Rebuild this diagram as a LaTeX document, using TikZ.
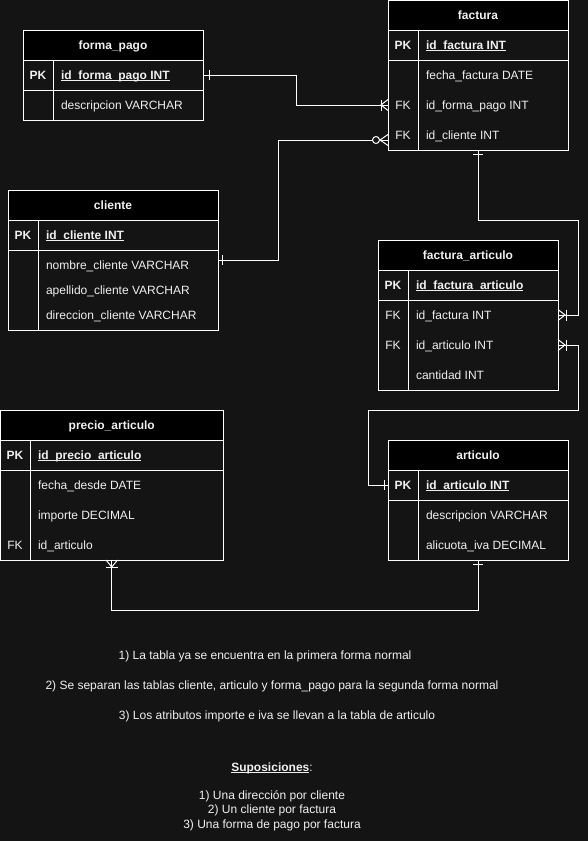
\documentclass[tikz,border=0pt]{standalone}
\usepackage{fontspec}
\setmainfont{Liberation Sans}
\newcommand{\myul}[1]{\setbox0\hbox{#1}\rlap{\rule[-1.8pt]{\wd0}{0.9pt}}\box0}
\definecolor{bgc}{HTML}{141414}
\definecolor{fgc}{HTML}{F0F0F0}
\begin{document}
\begin{tikzpicture}[x=1pt,y=-1pt,
  every node/.style={inner sep=0pt, outer sep=0pt, text=fgc, font=\fontsize{12}{14}\selectfont},
  ln/.style={draw=white, line width=1pt},
  hdr/.style={ln, fill=black, anchor=north west, minimum height=30pt, text height=8.6pt, text depth=0pt, font=\fontsize{12}{14}\selectfont\bfseries},
  bodybox/.style={ln, fill=bgc, anchor=north west},
  keyt/.style={anchor=center, text height=8.6pt, text depth=0pt},
  keyb/.style={keyt, font=\fontsize{12}{14}\selectfont\bfseries},
  fld/.style={anchor=west, text height=8.6pt, text depth=0pt},
  fldb/.style={fld, font=\fontsize{12}{14}\selectfont\bfseries},
  conn/.style={draw=white, line width=1pt},
  mk/.style={draw=white, line width=1pt},
  note/.style={anchor=center, text height=8.6pt, text depth=0pt}
]
\fill[bgc] (0,0) rectangle (588,841);
\useasboundingbox (0,0) rectangle (588,841);

% forma_pago
\node[hdr, minimum width=180pt] (fp) at (23,30) {forma\_pago};
\node[bodybox, minimum width=180pt, minimum height=30pt] (fp1) at (23,60) {};
\node[bodybox, minimum width=180pt, minimum height=30pt] (fp2) at (23,90) {};
\draw[ln] (53,60) -- (53,120);
\node[keyb] (fp1k) at (38,75) {PK};
\node[fldb] (fp1f) at (61,75) {\myul{id\_forma\_pago INT}};
\node[fld] (fp2f) at (61,105) {descripcion VARCHAR};

% factura
\node[hdr, minimum width=180pt, minimum height=29.5pt] (fa) at (388,0.5) {factura};
\node[bodybox, minimum width=180pt, minimum height=30pt] (fa1) at (388,30) {};
\node[bodybox, minimum width=180pt, minimum height=90pt] (fab) at (388,60) {};
\draw[ln] (418,30) -- (418,150);
\node[keyb] (fa1k) at (403,45) {PK};
\node[fldb] (fa1f) at (426,45) {\myul{id\_factura INT}};
\node[fld] (fa2f) at (426,75) {fecha\_factura DATE};
\node[keyt] (fa3k) at (403,105) {FK};
\node[fld] (fa3f) at (426,105) {id\_forma\_pago INT};
\node[keyt] (fa4k) at (403,135) {FK};
\node[fld] (fa4f) at (426,135) {id\_cliente INT};

% cliente
\node[hdr, minimum width=210pt] (cl) at (8,190) {cliente};
\node[bodybox, minimum width=210pt, minimum height=30pt] (cl1) at (8,220) {};
\node[bodybox, minimum width=210pt, minimum height=80pt] (clb) at (8,250) {};
\draw[ln] (38,220) -- (38,330);
\node[keyb] (cl1k) at (23,235) {PK};
\node[fldb] (cl1f) at (46,235) {\myul{id\_cliente INT}};
\node[fld] (cl2f) at (46,265) {nombre\_cliente VARCHAR};
\node[fld] (cl3f) at (46,290) {apellido\_cliente VARCHAR};
\node[fld] (cl4f) at (46,315) {direccion\_cliente VARCHAR};

% factura_articulo
\node[hdr, minimum width=180pt] (fx) at (378,240) {factura\_articulo};
\node[bodybox, minimum width=180pt, minimum height=30pt] (fx1) at (378,270) {};
\node[bodybox, minimum width=180pt, minimum height=90pt] (fxb) at (378,300) {};
\draw[ln] (408,270) -- (408,390);
\node[keyb] (fx1k) at (393,285) {PK};
\node[fldb] (fx1f) at (416,285) {\myul{id\_factura\_articulo}};
\node[keyt] (fx2k) at (393,315) {FK};
\node[fld] (fx2f) at (416,315) {id\_factura INT};
\node[keyt] (fx3k) at (393,345) {FK};
\node[fld] (fx3f) at (416,345) {id\_articulo INT};
\node[fld] (fx4f) at (416,375) {cantidad INT};

% precio_articulo
\node[hdr, minimum width=222.5pt] (pa) at (0.5,410) {precio\_articulo};
\node[bodybox, minimum width=222.5pt, minimum height=30pt] (pa1) at (0.5,440) {};
\node[bodybox, minimum width=222.5pt, minimum height=90pt] (pab) at (0.5,470) {};
\draw[ln] (30,440) -- (30,560);
\node[keyb] (pa1k) at (15,455) {PK};
\node[fldb] (pa1f) at (38,455) {\myul{id\_precio\_articulo}};
\node[fld] (pa2f) at (38,485) {fecha\_desde DATE};
\node[fld] (pa3f) at (38,515) {importe DECIMAL};
\node[keyt] (pa4k) at (15,545) {FK};
\node[fld] (pa4f) at (38,545) {id\_articulo};

% articulo
\node[hdr, minimum width=180pt] (ar) at (388,440) {articulo};
\node[bodybox, minimum width=180pt, minimum height=30pt] (ar1) at (388,470) {};
\node[bodybox, minimum width=180pt, minimum height=60pt] (arb) at (388,500) {};
\draw[ln] (418,470) -- (418,560);
\node[keyb] (ar1k) at (403,485) {PK};
\node[fldb] (ar1f) at (426,485) {\myul{id\_articulo INT}};
\node[fld] (ar2f) at (426,515) {descripcion VARCHAR};
\node[fld] (ar3f) at (426,545) {alicuota\_iva DECIMAL};

% connector endpoints
\coordinate (faFP) at (388,105);
\coordinate (faCL) at (388,140);
\coordinate (clE) at (218,260);
\coordinate (fxFA) at (558,315);
\coordinate (fxAR) at (558,345);

% connectors
\draw[conn] (fp1.east) -- (296,75) -- (296,105) -- (faFP);
\draw[conn] (clE) -- (278,260) -- (278,140) -- (372.5,140);
\draw[conn] (fab.south) -- (478,220) -- (578,220) -- (578,315) -- (fxFA);
\draw[conn] (fxAR) -- (578,345) -- (578,410) -- (368,410) -- (368,485) -- (ar1.west);
\draw[conn] (pab.south) -- (111.75,610) -- (478,610) -- (arb.south);

% ER marks
\draw[mk] (209,70) -- (209,80);
\draw[mk] (388,99.5) -- (381,105) -- (388,110.5);
\draw[mk] (381,99.5) -- (381,110.5);
\draw[mk] (222,255) -- (222,265);
\draw[mk, fill=bgc] (376,140) circle[radius=3.5pt];
\draw[mk] (379.5,140) -- (388,140);
\draw[mk] (388,134.5) -- (380,140) -- (388,145.5);
\draw[mk] (473,154) -- (483,154);
\draw[mk] (558,309.5) -- (565,315) -- (558,320.5);
\draw[mk] (566,309.5) -- (566,320.5);
\draw[mk] (558,339.5) -- (565,345) -- (558,350.5);
\draw[mk] (566,339.5) -- (566,350.5);
\draw[mk] (384,480) -- (384,490);
\draw[mk] (106,560) -- (111.75,567) -- (117.5,560);
\draw[mk] (106,567.5) -- (117.5,567.5);
\draw[mk] (473,564) -- (483,564);

% notes
\node[note] (n1) at (265,655) {1) La tabla ya se encuentra en la primera forma normal};
\node[note] (n2) at (272,685) {2) Se separan las tablas cliente, articulo y forma\_pago para la segunda forma normal};
\node[note] (n3) at (277,715) {3) Los atributos importe e iva se llevan a la tabla de articulo};
\node[note] (s0) at (272,767) {\textbf{\myul{Suposiciones}}:};
\node[note] (s1) at (272,795) {1) Una dirección por cliente};
\node[note] (s2) at (272,809) {2) Un cliente por factura};
\node[note] (s3) at (272,824) {3) Una forma de pago por factura};
\end{tikzpicture}
\end{document}
